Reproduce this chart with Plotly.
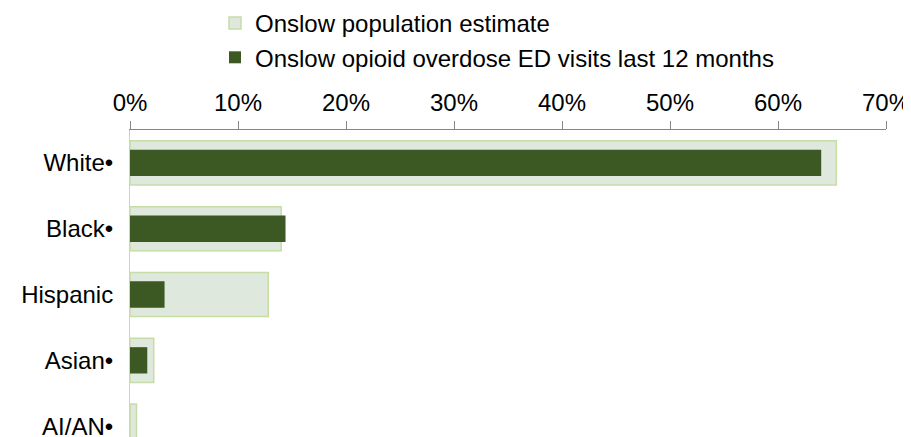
import plotly.graph_objects as go

categories = ["White•", "Black•", "Hispanic", "Asian•", "AI/AN•"]
population_estimate = [65.4, 14.0, 12.8, 2.2, 0.6]
opioid_ed_visits = [64.0, 14.4, 3.2, 1.6, 0.0]
tick_values = [0, 10, 20, 30, 40, 50, 60, 70]
tick_labels = ["0%", "10%", "20%", "30%", "40%", "50%", "60%", "70%"]

FONT = "Arial, 'Liberation Sans', sans-serif"
GRAY = "#868686"

W, H = 903, 429
ML, MT, MR = 122, 122, 25
plot_h = H - MT

fig = go.Figure()
fig.add_trace(go.Bar(
    y=categories, x=population_estimate, orientation="h",
    name="Onslow population estimate", width=0.67,
    marker=dict(color="#DFE8DD", line=dict(color="#C8DCA6", width=1.5)),
))
fig.add_trace(go.Bar(
    y=categories, x=opioid_ed_visits, orientation="h",
    name="Onslow opioid overdose ED visits last 12 months", width=0.40,
    marker=dict(color="#3D5923", line=dict(width=0)),
))

fig.update_layout(
    width=W, height=H,
    margin=dict(l=ML, r=MR, t=MT, b=0, autoexpand=False),
    paper_bgcolor="white", plot_bgcolor="white",
    barmode="overlay",
    font=dict(family=FONT, size=24, color="black"),
    showlegend=True,
    legend=dict(
        xref="container", yref="paper", x=207 / W, y=1 + (MT + 7) / plot_h,
        xanchor="left", yanchor="top",
        orientation="v", traceorder="normal",
        font=dict(size=24, family=FONT, color="black"),
        bgcolor="rgba(0,0,0,0)",
    ),
    xaxis=dict(
        side="top", range=[0, 70], tickvals=tick_values, ticktext=tick_labels,
        showgrid=False, zeroline=False, showline=True, linecolor=GRAY, linewidth=1,
        ticks="outside", ticklen=8, tickcolor=GRAY, tickwidth=1,
        tickfont=dict(size=24, family=FONT, color="black"), automargin=False,
    ),
    yaxis=dict(
        type="category", categoryorder="array", categoryarray=categories,
        range=[4.165, -0.5], showgrid=False, zeroline=False,
        showline=True, linecolor="#D0D0D0", linewidth=1,
        ticks="outside", ticklen=11, tickcolor="rgba(0,0,0,0)",
        tickfont=dict(size=24, family=FONT, color="black"), automargin=False,
    ),
)

fig.write_html("out.html")
